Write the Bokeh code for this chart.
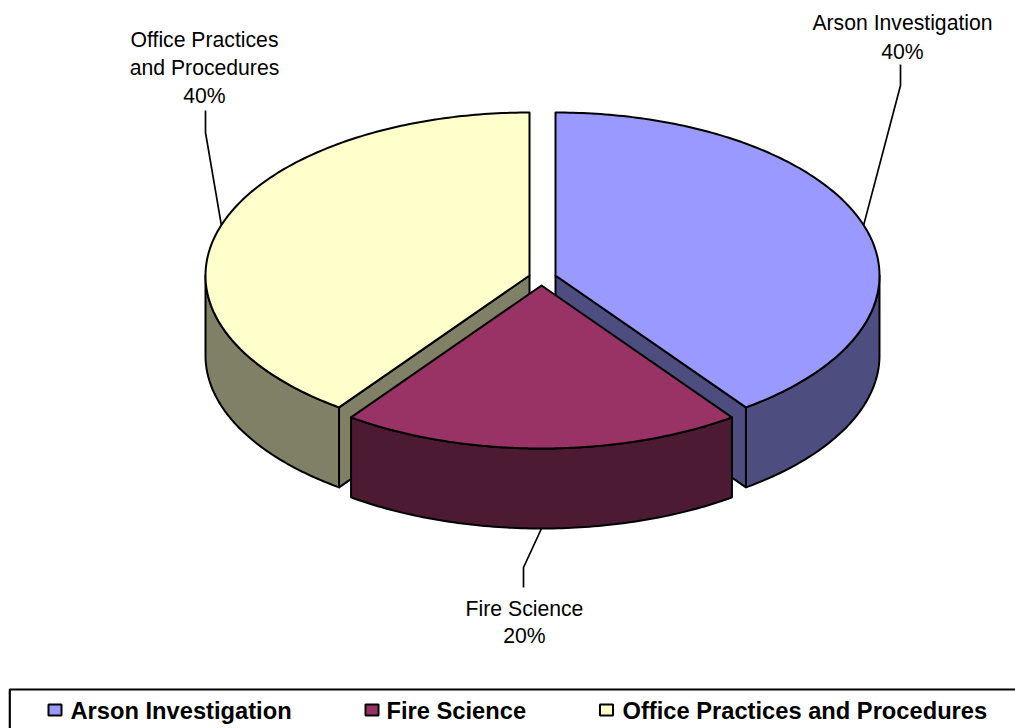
import numpy as np
from bokeh.plotting import figure
from bokeh.models import Range1d
from bokeh.core.properties import value
from bokeh.embed import file_html
from bokeh.resources import INLINE

categories = ["Arson Investigation", "Fire Science", "Office Practices and Procedures"]
label_lines = [["Arson Investigation"], ["Fire Science"], ["Office Practices", "and Procedures"]]
values = [40, 20, 40]
top_colors = ["#9999FF", "#993366", "#FFFFCC"]
side_colors = ["#4D4D80", "#4D1A33", "#808066"]

FONT = "Liberation Sans"
RX, RY, DEPTH = 324, 163, 80
apexes = [(555, 275), (541, 285), (529, 275)]
# elbow x, elbow y, end y of each leader
leaders = [(900, 85, 64), (523, 567, 587), (205, 132, 110)]
# centre x of each label, and the y of the first line and of the percentage
label_x = [902, 524, 204]
label_first_y = [22, 608, 39]
label_last_y = [51, 635, 95]
legend_swatch_x = [54.5, 371.5, 606]
legend_text_x = [70, 386, 622]
LEGEND_Y = 710
SWATCH_Y = 709.5
LEGEND_TOP = 689
LEGEND_LEFT = 9.3

p = figure(width=1015, height=728, output_backend="svg", toolbar_location=None,
           x_range=Range1d(0, 1015), y_range=Range1d(728, 0), min_border=0,
           border_fill_color="white", background_fill_color="white", outline_line_color=None)
p.axis.visible = False
p.grid.visible = False

total = sum(values)
fracs = np.cumsum([0] + values) / total * 2 * np.pi


def rim(i, a):
    cx, cy = apexes[i]
    return cx + RX * np.sin(a), cy - RY * np.cos(a)


def arc(i, a0, a1, n=90):
    return rim(i, np.linspace(a0, a1, n))


STROKE = dict(line_color="black", line_width=2, line_join="round")

# Back slices first, the front slice last
for i in [0, 2, 1]:
    a0, a1 = fracs[i], fracs[i + 1]
    cx, cy = apexes[i]
    # visible outer wall: the part of the rim on the lower half
    w0, w1 = max(a0, np.pi / 2), min(a1, 3 * np.pi / 2)
    wx, wy = arc(i, w0, w1)
    p.patch(np.r_[wx, wx[::-1]], np.r_[wy, wy[::-1] + DEPTH],
            fill_color=side_colors[i], **STROKE)
    # visible cut face
    if i != 1:
        edge = a1 if i == 0 else a0
        ex, ey = rim(i, edge)
        p.patch([cx, ex, ex, cx], [cy, ey, ey + DEPTH, cy + DEPTH],
                fill_color=side_colors[i], **STROKE)
    # top of the slice
    tx, ty = arc(i, a0, a1, 180)
    p.patch(np.r_[cx, tx], np.r_[cy, ty], fill_color=top_colors[i], **STROKE)

# Leaders and data labels
for i, v in enumerate(values):
    mid = (fracs[i] + fracs[i + 1]) / 2
    mx, my = rim(i, mid)
    if abs(mid - np.pi) < np.pi / 2:
        my = my + DEPTH
    ex, ey0, ey1 = leaders[i]
    p.line([mx, ex, ex], [my, ey0, ey1], line_color="black", line_width=1.7)
    lines = label_lines[i] + [f"{round(v / total * 100)}%"]
    ys = np.linspace(label_first_y[i], label_last_y[i], len(lines))
    p.text([label_x[i]] * len(lines), ys, text=lines, text_font=value(FONT), text_font_size="21.2px",
           text_color="black", text_align="center", text_baseline="middle")

# Legend
p.line([1015, LEGEND_LEFT, LEGEND_LEFT], [LEGEND_TOP, LEGEND_TOP, 728], line_color="black", line_width=2.2)
p.rect(legend_swatch_x, [SWATCH_Y] * 3, width=13, height=11, fill_color=top_colors,
       line_color="black", line_width=2)
p.text(legend_text_x, [LEGEND_Y] * 3, text=categories, text_font=value(FONT), text_font_size="23.7px",
       text_font_style="bold", text_color="black", text_align="left", text_baseline="middle")

open("out.html", "w").write(file_html(p, INLINE))
